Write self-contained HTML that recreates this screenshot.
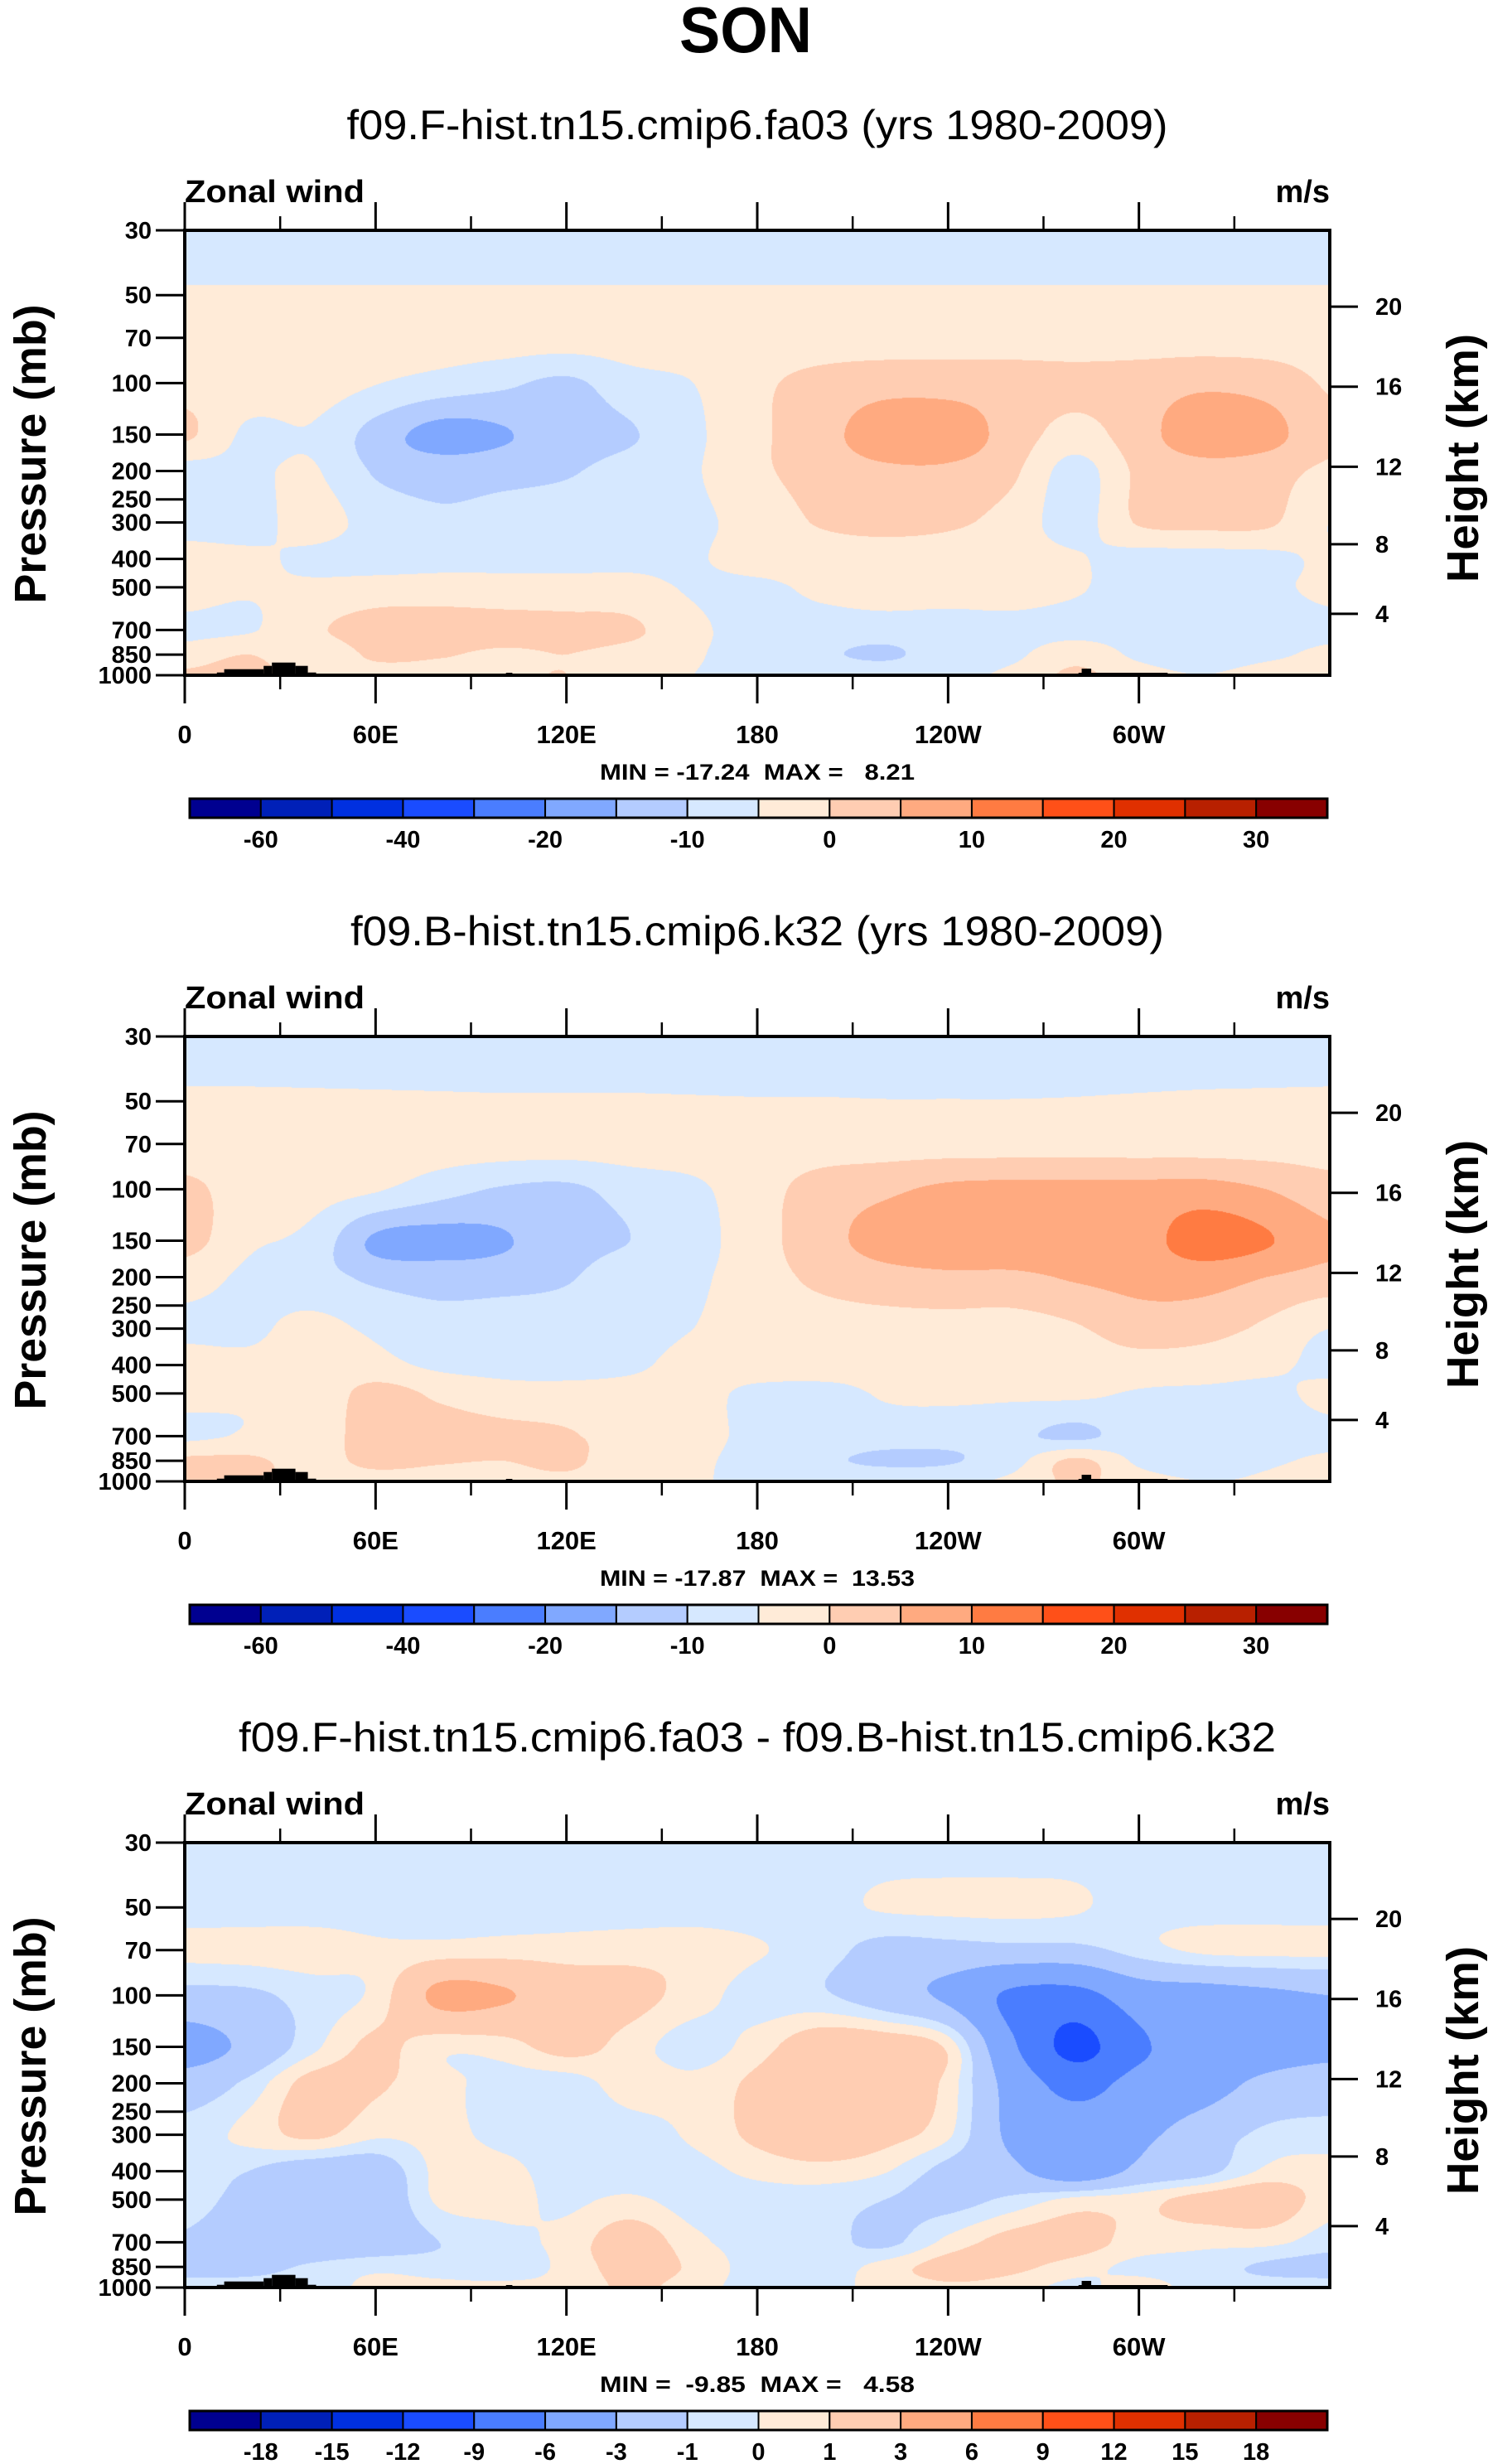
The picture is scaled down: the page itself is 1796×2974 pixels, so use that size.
<!DOCTYPE html>
<html><head><meta charset="utf-8">
<style>
html,body{margin:0;padding:0;background:#fff;}
#wrap{position:relative;width:1796px;height:2974px;overflow:hidden;background:#fff;}
canvas{position:absolute;}
svg{position:absolute;left:0;top:0;}
text{font-family:"Liberation Sans",Arial,sans-serif;fill:#000;}
.pre{white-space:pre;}
</style></head>
<body>
<div id="wrap">
<canvas id="c0"></canvas>
<canvas id="c1"></canvas>
<canvas id="c2"></canvas>
<svg id="svg" width="1796" height="2974" xmlns="http://www.w3.org/2000/svg">
<text x="900" y="63" font-size="78" font-weight="bold" text-anchor="middle" textLength="160" lengthAdjust="spacingAndGlyphs">SON</text>
</svg>
</div>
<script>
const lons=[0,20,40,60,80,100,120,140,160,180,200,220,240,260,280,300,320,340,360];
const pLevels=[30,50,70,100,150,200,300,400,500,700,850,1000];
const windF=[
[-8,-8,-8,-8,-8,-8,-8,-8,-8,-8,-8,-8,-8,-8,-8,-8,-8,-8,-8],
[-4.5,-4.5,-4.5,-4.5,-4.5,-4.5,-4.5,-4.5,-4.5,-4.5,-4.5,-4.5,-4.5,-4.5,-4.5,-4.5,-4.5,-4.5,-4.5],
[-2.5,-2.5,-2.5,-2.5,-2.5,-2.5,-2.5,-2.5,-2.5,-2.5,-2.5,-2.5,-2.5,-2.5,-2.5,-2.5,-2.5,-2.5,-2.5],
[-2,-2,-2.5,-4.8,-7,-9,-11,-7,-5,-1,1.5,3,3,2.5,1.5,2.5,4,3,-0.5],
[1,-6,-5.5,-12,-17,-15.5,-12,-10.5,-6,-1,3,8,8,3,-2,3,8,7,1],
[-7,-6,-4.5,-10.5,-12,-11.5,-10.5,-8,-5.5,-1,2,4,4,1,-7,1,3,2,-1],
[-7,-7,-3,-7,-9,-8,-7,-7,-6,-3,0.5,2,1,-2,-7,0.5,1.5,1,-5],
[-3,-4,-6,-7,-6.5,-6,-6,-6,-5.5,-3,-3,-3,-3,-3,-4.5,-7,-7,-6.5,-4],
[-3,-4.5,-4,-3,-3,-3.5,-3.5,-3.5,-5.5,-6,-4,-3,-3,-3,-4.5,-7,-7,-6,-4],
[-6,-5.5,-1,2.5,3,2.5,2,1,-4,-6.5,-7,-7,-7,-6.5,-6.5,-7,-7,-7,-6],
[-3,0,-4,1,0.5,-1,0,-2,-4.5,-7,-9,-11,-7,-6,-2,-6,-8,-6,-4],
[1,2,-2,-2,-2,-1,0,-3,-5,-6,-6,-6,-6,-4,1,-3,-5,-3,-3]
];
const windB=[
[-8,-8,-8,-8,-8,-8,-8,-8,-8,-8,-8,-8,-8,-8,-8,-8,-8,-8,-8],
[-4.2,-4.2,-4.3,-4.4,-4.5,-4.6,-4.6,-4.6,-4.7,-4.8,-4.8,-4.9,-4.9,-4.9,-4.8,-4.6,-4.4,-4.3,-4.2],
[-2.5,-2.5,-2.5,-2.5,-2.5,-2.5,-2.5,-2.5,-2.5,-2.5,-2.5,-2.5,-2.5,-2.5,-2.5,-2.5,-2.5,-2.5,-2.5],
[1,-2,-3,-4.5,-8,-10.5,-11,-8,-6,-2,2,4,6,6.5,6.5,6.5,7,5,2],
[2,-4,-6.5,-16,-17,-15.5,-12,-10,-7,-2,3,7,8,8,7.5,8,12.5,10.5,6],
[-3,-6,-8,-11,-12,-12,-10.5,-7,-6,-2,1,3,4,4,5.5,6.5,7,5,3],
[-6,-6,-3.5,-6,-8,-7,-7,-7,-5,-2,-2,-2,-2,-2,-0.5,2.5,2,-1,-5],
[-3,-4,-3,-3.5,-6,-6.5,-7,-6,-3,-2,-2,-3,-3,-1,-2,-2,-2.5,-4,-6],
[-3.5,-4.5,-4,2,-1,-3,-3,-3,-3,-6.5,-7,-4.5,-4,-4,-4,-5.5,-6,-6,-4],
[-6,-4.5,-3.5,3,2.5,1.5,0.5,-2,-3,-6.5,-7,-7.5,-8,-9,-11,-8,-9,-7,-6],
[1,1,-2,1.5,0.5,0,1,-3,-4,-7,-9,-11,-10.5,-7,1,-6,-8,-6,-4],
[1,1,-2,-2,-2,-2,-1,-3,-4.5,-6,-6,-6,-6,-4,1,-3,-5,-4,0]
];
const windDiff=[
[-0.5,-0.5,-0.5,-0.5,-0.5,-0.5,-0.5,-0.5,-0.5,-0.5,-0.5,-0.5,-0.5,-0.5,-0.5,-0.5,-0.5,-0.5,-0.5],
[-0.5,-0.5,-0.5,-0.5,-0.5,-0.5,-0.5,-0.5,-0.5,-0.5,-0.3,0.1,0.2,0.2,0.1,-0.4,-0.5,-0.5,-0.5],
[0.3,0.4,0.5,0.2,0.4,0.5,0.5,0.6,0.6,0.1,-0.5,-1.5,-1.5,-1.5,-1.5,-0.5,0.2,0.3,0.3],
[-1.5,-1.3,-0.5,0.3,3.5,3.2,2,1.5,0.5,-0.5,-0.8,-2,-3.5,-6.5,-7,-4.5,-4,-3.5,-3],
[-4,-2.5,-0.3,1.3,0.3,0.5,1.5,0.5,-0.5,0.5,2,2,0.7,-5.5,-9.8,-6.5,-4.5,-4,-3.5],
[-2,-0.7,1.5,1.2,0.3,-0.3,-0.5,0.5,0.3,1.3,2.2,2.2,0.6,-4,-7,-5,-4,-2.5,-2],
[-0.5,0.3,1.3,0.2,0.3,-0.3,-0.6,-0.5,0.2,1.3,2.1,1.5,0.2,-3.5,-4.5,-3.5,-2,-0.7,-0.5],
[-0.5,-1,-2,-2,0.3,0.3,-0.5,-0.5,-0.4,0.3,0.6,0.1,-1.5,-2.5,-4.5,-2.5,-1.5,0.2,0.3],
[-0.5,-1.5,-2.2,-2.3,0.2,0.3,-0.2,0.2,-0.5,-0.5,-0.5,-1,-1.5,-0.7,0.3,0.6,1.5,2,0.4],
[-1.2,-2,-2.3,-2,-1,-0.3,0.3,1.8,0.3,-0.5,-0.5,-1.3,0.3,1.5,1.5,0.6,0.3,0.3,-0.5],
[-1.5,-1.5,-0.8,-0.3,-0.5,-0.7,0.3,1.5,0.8,-0.5,-0.6,0.4,1.5,1.3,0.5,-0.3,-0.5,-1.2,-1.5],
[-0.5,-0.5,-0.5,0.3,0.3,0.3,0.3,1.2,0.5,-0.5,-0.3,0.3,0.8,0.5,-0.3,0.5,-0.5,-0.5,-0.5]
];
const absLevels=[-60,-50,-40,-30,-20,-15,-10,-5,0,5,10,15,20,25,30];
const absLabels=['-60','','-40','','-20','','-10','','0','','10','','20','','30'];
const diffLevels=[-18,-15,-12,-9,-6,-3,-1,0,1,3,6,9,12,15,18];
const diffLabels=['-18','-15','-12','-9','-6','-3','-1','0','1','3','6','9','12','15','18'];
const fillColors=['#000090','#0020b8','#0030e0','#1a4cff','#4a7dff','#80a8ff','#b4ccff','#d6e8ff','#ffebd8','#ffcdb2','#ffaa80','#ff7b42','#ff5018','#e03000','#b82000','#880000'];
const pTicks=[30,50,70,100,150,200,250,300,400,500,700,850,1000];
const zTicks=[20,16,12,8,4];
const lonTicksMajor=[0,60,120,180,240,300];
const lonTickLabels=['0','60E','120E','180','120W','60W'];
const lonTicksMinor=[30,90,150,210,270,330];
const topoLon0=[10.1,12.4,24.8,27.4,34.8,38.7,101,281,282,285];
const topoLon1=[12.4,24.8,27.4,34.8,38.7,41.3,103,309,285,309];
const topoHgt=[3.3,7.3,11.3,15.3,11.3,3.3,3,3,8,3];
const titles=['f09.F-hist.tn15.cmip6.fa03 (yrs 1980-2009)','f09.B-hist.tn15.cmip6.k32 (yrs 1980-2009)','f09.F-hist.tn15.cmip6.fa03 - f09.B-hist.tn15.cmip6.k32'];
const titleWidths=[991,982,1252];
const minMaxText=['MIN = -17.24  MAX =   8.21','MIN = -17.87  MAX =  13.53','MIN =  -9.85  MAX =   4.58'];

const L=223,R=1605,W=R-L,H=537,T0=278;
const offsets=[0,973,1946];
const NS='http://www.w3.org/2000/svg';
const svg=document.getElementById('svg');
function xScale(lon){return L+lon/360*W;}
function yScale(p,T){return T+H*Math.log(p/30)/Math.log(1000/30);}
function zToP(z){const m=z*1000;if(m<=11000)return 1013.25*Math.pow(1-2.25577e-5*m,5.25588);return 226.32*Math.exp(-(m-11000)/6341.6);}
function el(tag,attrs,parent){const e=document.createElementNS(NS,tag);for(const k in attrs)e.setAttribute(k,attrs[k]);(parent||svg).appendChild(e);return e;}
function txt(x,y,s,size,extra,parent){const e=el('text',Object.assign({x:x,y:y,'font-size':size,'font-weight':'bold'},extra||{}),parent);e.textContent=s;return e;}
function cr(p0,p1,p2,p3,t){return p1+0.5*t*(p2-p0+t*(2*p0-5*p1+4*p2-p3+t*(3*(p1-p2)+p3-p0)));}
function classify(v,levels){let k=0;while(k<levels.length&&v>=levels[k])k++;return k;}
function hex(c){return [parseInt(c.substr(1,2),16),parseInt(c.substr(3,2),16),parseInt(c.substr(5,2),16)];}
const rgb=fillColors.map(hex);

function drawField(cv,grid,levels,T){
  cv.width=W;cv.height=H;cv.style.left=L+'px';cv.style.top=T+'px';
  const ctx=cv.getContext('2d');const img=ctx.createImageData(W,H);const d=img.data;
  const nr=pLevels.length,nc=lons.length;
  const rowv=new Array(nc);
  for(let y=0;y<H;y++){
    const p=30*Math.exp((y+0.5)/H*Math.log(1000/30));
    let k=0;while(k<nr-2&&p>pLevels[k+1])k++;
    const t=Math.min(1,Math.max(0,Math.log(p/pLevels[k])/Math.log(pLevels[k+1]/pLevels[k])));
    const r0=grid[Math.max(0,k-1)],r1=grid[k],r2=grid[k+1],r3=grid[Math.min(nr-1,k+2)];
    for(let j=0;j<nc;j++)rowv[j]=cr(r0[j],r1[j],r2[j],r3[j],t);
    for(let x=0;x<W;x++){
      const lon=(x+0.5)/W*360;
      const fj=(lon-lons[0])/(lons[1]-lons[0]);
      let j=Math.min(nc-2,Math.floor(fj));const u=fj-j;
      const v=cr(rowv[Math.max(0,j-1)],rowv[j],rowv[j+1],rowv[Math.min(nc-1,j+2)],u);
      const c=rgb[classify(v,levels)];const o=(y*W+x)*4;
      d[o]=c[0];d[o+1]=c[1];d[o+2]=c[2];d[o+3]=255;
    }
  }
  ctx.putImageData(img,0,0);
}

const grids=[windF,windB,windDiff];
const levelSets=[absLevels,absLevels,diffLevels];
const labelSets=[absLabels,absLabels,diffLabels];
for(let i=0;i<3;i++){
  const dy=offsets[i],T=T0+dy,B=T+H;
  drawField(document.getElementById('c'+i),grids[i],levelSets[i],T);
  const g=el('g',{});
  
  
  let e=txt(914,168+dy,titles[i],50,{'font-weight':'normal','text-anchor':'middle',textLength:titleWidths[i],lengthAdjust:'spacingAndGlyphs'},g);
  
  
  e=txt(L,244+dy,'Zonal wind',38,{textLength:217,lengthAdjust:'spacingAndGlyphs'},g);
  
  
  e=txt(R,244+dy,'m/s',38,{'text-anchor':'end'},g);
  
  
  for(let k=0;k<topoHgt.length;k++){
    const x0=xScale(topoLon0[k]),x1=xScale(topoLon1[k]);
    e=el('rect',{x:x0,y:B-topoHgt[k],width:x1-x0,height:topoHgt[k],fill:'#000'},g);
    
    
  }
  e=el('rect',{x:L,y:T,width:W,height:H,fill:'none',stroke:'#000','stroke-width':4},g);
  
  
  lonTicksMajor.forEach((lon,k)=>{
    const x=xScale(lon);
    el('line',{x1:x,x2:x,y1:T-34,y2:T,stroke:'#000','stroke-width':3},g);
    el('line',{x1:x,x2:x,y1:B,y2:B+34,stroke:'#000','stroke-width':3},g);
    const t=txt(x,897+dy,lonTickLabels[k],31,{'text-anchor':'middle'},g);
    
    
  });
  lonTicksMinor.forEach(lon=>{
    const x=xScale(lon);
    el('line',{x1:x,x2:x,y1:T-17,y2:T,stroke:'#000','stroke-width':2.5},g);
    el('line',{x1:x,x2:x,y1:B,y2:B+17,stroke:'#000','stroke-width':2.5},g);
  });
  pTicks.forEach(p=>{
    const y=yScale(p,T);
    el('line',{x1:L-35,x2:L,y1:y,y2:y,stroke:'#000','stroke-width':3},g);
    const t=txt(183,y+10,String(p),29,{'text-anchor':'end'},g);
    
    
  });
  zTicks.forEach(z=>{
    const y=yScale(zToP(z),T);
    el('line',{x1:R,x2:R+34,y1:y,y2:y,stroke:'#000','stroke-width':3},g);
    const t=txt(1660,y+10,String(z),29,{},g);
    
    
  });
  e=txt(0,0,'Pressure (mb)',54,{'text-anchor':'middle',transform:'translate(55,'+(548+dy)+') rotate(-90)',textLength:361,lengthAdjust:'spacingAndGlyphs'},g);
  
  
  e=txt(0,0,'Height (km)',54,{'text-anchor':'middle',transform:'translate(1784,'+(553+dy)+') rotate(-90)',textLength:300,lengthAdjust:'spacingAndGlyphs'},g);
  
  
  e=txt(914,941+dy,minMaxText[i],27,{'text-anchor':'middle','class':'pre',textLength:380,lengthAdjust:'spacingAndGlyphs'},g);
  
  
  const cb=el('g',{},g);
  
  
  const cx0=229,cx1=1602,cy0=964+dy,ch=23,bw=(cx1-cx0)/fillColors.length;
  fillColors.forEach((c,k)=>{
    const r=el('rect',{x:cx0+k*bw,y:cy0,width:bw,height:ch,fill:c,stroke:'#000','stroke-width':2},cb);
    
    
  });
  el('rect',{x:cx0,y:cy0,width:cx1-cx0,height:ch,fill:'none',stroke:'#000','stroke-width':3},cb);
  labelSets[i].forEach((s,k)=>{
    if(!s)return;
    const t=txt(cx0+(k+1)*bw,1023+dy,s,29,{'text-anchor':'middle'},cb);
    
    
  });
}
</script>
</body></html>
